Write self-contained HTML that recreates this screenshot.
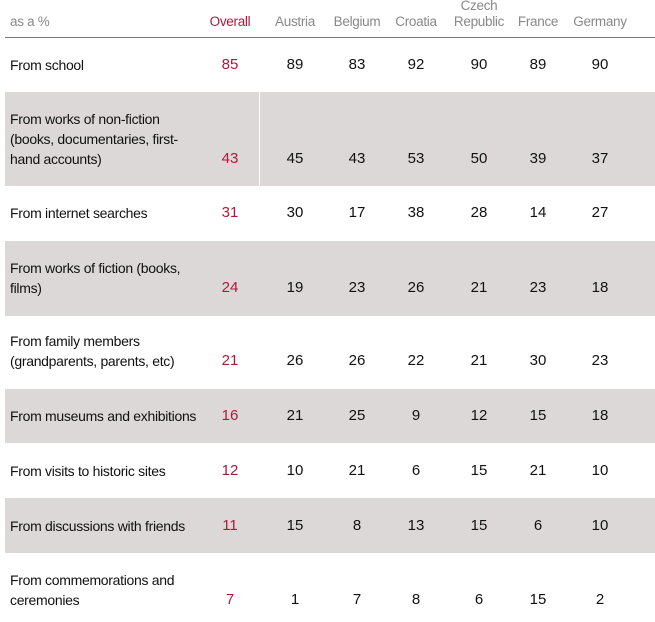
<!DOCTYPE html>
<html><head><style>
body{margin:0;width:655px;height:622px;background:#fff;position:relative;font-family:"Liberation Sans",sans-serif;overflow:hidden}
.t{position:absolute;font-size:14px;color:#111;letter-spacing:-0.3px;line-height:20px}
.h{position:absolute;font-size:13.5px;color:#888;letter-spacing:-0.3px;text-align:center;line-height:16px}
.g{position:absolute;left:5px;width:650px;background:#dcd8d7}
.v{position:absolute;font-size:15px;color:#111;text-align:center;width:40px;line-height:20px}
.r{color:#b0183a}
</style></head><body>
<div class="g" style="top:92px;height:94px"></div>
<div class="g" style="top:241px;height:75px"></div>
<div class="g" style="top:389px;height:54px"></div>
<div class="g" style="top:498px;height:55px"></div>
<div style="position:absolute;left:259px;top:92px;width:1px;height:94px;background:#fff"></div>
<div style="position:absolute;left:5px;top:37px;width:650px;height:1px;background:#777"></div>
<div class="h" style="left:10px;top:14px;text-align:left">as a %</div>
<div class="h r" style="left:200px;top:14px;width:60px">Overall</div>
<div class="h" style="left:265px;top:14px;width:60px">Austria</div>
<div class="h" style="left:325px;top:14px;width:64px">Belgium</div>
<div class="h" style="left:386px;top:14px;width:60px">Croatia</div>
<div class="h" style="left:449px;top:-2px;width:60px">Czech<br>Republic</div>
<div class="h" style="left:508px;top:14px;width:60px">France</div>
<div class="h" style="left:568px;top:14px;width:64px">Germany</div>
<div id="rows"></div>
<script>
var rows=[
[55,["From school"],[85,89,83,92,90,89,90]],
[149,["From works of non-fiction","(books, documentaries, first-","hand accounts)"],[43,45,43,53,50,39,37]],
[203,["From internet searches"],[31,30,17,38,28,14,27]],
[278,["From works of fiction (books,","films)"],[24,19,23,26,21,23,18]],
[351,["From family members","(grandparents, parents, etc)"],[21,26,26,22,21,30,23]],
[406,["From museums and exhibitions"],[16,21,25,9,12,15,18]],
[461,["From visits to historic sites"],[12,10,21,6,15,21,10]],
[516,["From discussions with friends"],[11,15,8,13,15,6,10]],
[590,["From commemorations and","ceremonies"],[7,1,7,8,6,15,2]]];
var cx=[230,295,357,416,479,538,600],h="";
rows.forEach(function(r){var n=r[1].length;var top=r[0]-(n-1)*20;
h+='<div class="t" style="left:10px;top:'+top+'px">'+r[1].join('<br>')+'</div>';
r[2].forEach(function(v,i){h+='<div class="v'+(i==0?' r':'')+'" style="left:'+(cx[i]-20)+'px;top:'+r[0]+'px">'+v+'</div>';});});
document.getElementById('rows').innerHTML=h;
</script>
</body></html>
